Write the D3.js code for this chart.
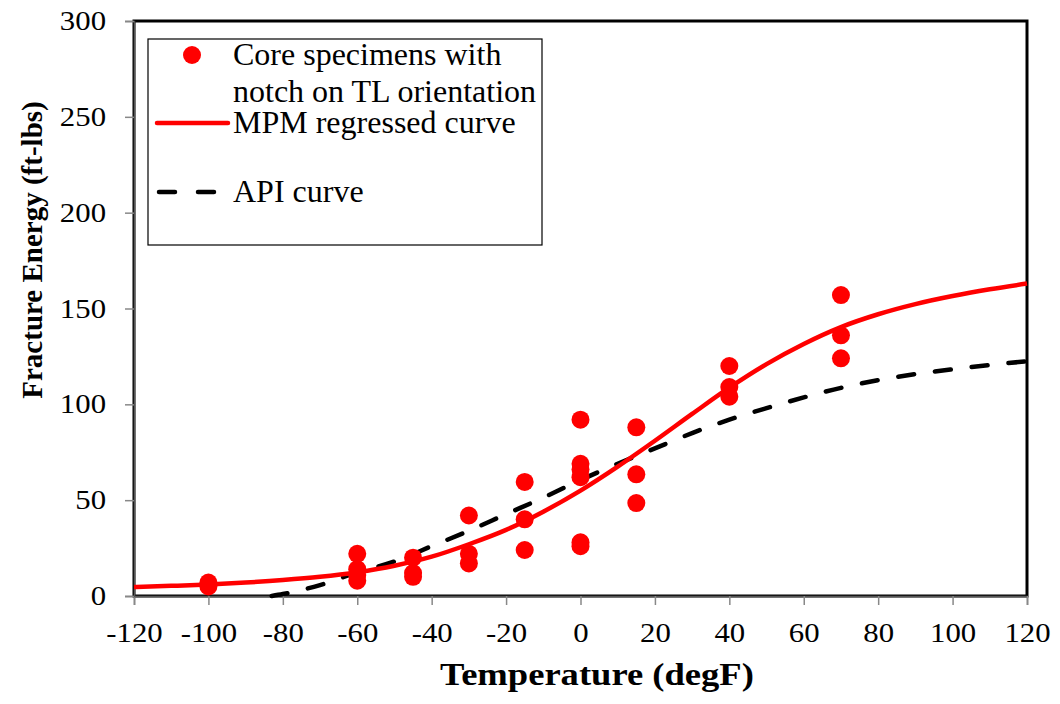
<!DOCTYPE html>
<html>
<head>
<meta charset="utf-8">
<script src="https://cdn.jsdelivr.net/npm/d3@7"></script>
<style>
  body { margin: 0; background: #fff; }
</style>
</head>
<body>
<div id="chart"></div>
<script>
// specimen data (temperature degF, fracture energy ft-lbs)
var specTemp   = [-100, -100, -60, -60, -60, -60, -45, -45, -45, -30, -30, -30, -15, -15, -15, 0, 0, 0, 0, 0, 0, 15, 15, 15, 40, 40, 40, 70, 70, 70];
var specEnergy = [7, 5, 22, 14, 11, 8, 20, 12, 10, 42, 22, 17, 59.5, 40, 24, 92, 69, 66, 62, 28, 26, 88, 63.5, 48.5, 120, 109, 104, 157, 136, 124];

// MPM regressed curve
var mpmTemp   = [-120, -110, -100, -90, -80, -70, -60, -50, -40, -30, -20, -10, 0, 10, 20, 30, 40, 50, 60, 70, 80, 90, 100, 110, 120];
var mpmEnergy = [4.7, 5.3, 6.0, 7.0, 8.3, 10.0, 12.4, 15.8, 20.5, 27, 34.5, 44, 55, 67.5, 81, 95, 108.7, 121, 131.5, 140.3, 147, 152.3, 156.5, 160, 163];

// API curve
var apiTemp   = [-83, -80, -70, -60, -50, -40, -30, -20, -10, 0, 10, 20, 30, 40, 50, 60, 70, 80, 90, 100, 110, 120];
var apiEnergy = [0, 1, 5.7, 12.3, 18, 26, 34, 42.7, 51.3, 60.5, 69, 77, 85, 92, 98, 103.6, 108.6, 112.6, 115.8, 118.3, 120.5, 122.5];

var xTicks = [-120, -100, -80, -60, -40, -20, 0, 20, 40, 60, 80, 100, 120];
var yTicks = [0, 50, 100, 150, 200, 250, 300];

var serif = "'Liberation Serif', 'Times New Roman', serif";
var stretch = 1.14; // tick labels in the original are a bit wide

var svgWidth = 1060;
var svgHeight = 704;

var margin = { top: 21, right: 33, bottom: 108, left: 134 };
var width = svgWidth - margin.left - margin.right;
var height = svgHeight - margin.top - margin.bottom;

var svg = d3.select("#chart")
  .append("svg")
  .attr("width", svgWidth)
  .attr("height", svgHeight);

var chartGroup = svg.append("g")
  .attr("transform", `translate(${margin.left}, ${margin.top})`);

var x = d3.scaleLinear().domain([-120, 120]).range([0, width]);
var y = d3.scaleLinear().domain([0, 300]).range([height, 0]);

// plot frame
chartGroup.append("rect")
  .attr("width", width)
  .attr("height", height)
  .attr("fill", "none")
  .attr("stroke", "#000")
  .attr("stroke-width", 3);

// axes
var bottomAxis = d3.axisBottom(x).tickValues(xTicks).tickSize(9).tickPadding(18).tickFormat(d => String(d));
var leftAxis = d3.axisLeft(y).tickValues(yTicks).tickSize(9).tickPadding(19).tickFormat(d => String(d));

var xAxisG = chartGroup.append("g")
  .attr("transform", `translate(0, ${height})`)
  .call(bottomAxis);

var yAxisG = chartGroup.append("g")
  .call(leftAxis);

[xAxisG, yAxisG].forEach(function(g) {
  g.select(".domain").attr("stroke", "#555").attr("stroke-width", 1.5);
  g.selectAll(".tick line").attr("stroke", "#888").attr("stroke-width", 1.5);
  g.selectAll(".tick text")
    .style("font-family", serif)
    .style("font-size", "27px")
    .attr("fill", "#000")
    .attr("transform", `scale(${stretch}, 1)`);
});
xAxisG.selectAll(".tick text").attr("dy", "0.71em");
yAxisG.selectAll(".tick text").attr("x", -28 / stretch);

// API curve (dashed)
var line = d3.line()
  .x(d => x(d[0]))
  .y(d => y(d[1]))
  .curve(d3.curveMonotoneX);

chartGroup.append("path")
  .datum(d3.zip(apiTemp, apiEnergy))
  .attr("d", line)
  .attr("fill", "none")
  .attr("stroke", "#000")
  .attr("stroke-width", 4.5)
  .attr("stroke-dasharray", "16,21")
  .attr("stroke-linecap", "round");

// MPM curve
chartGroup.append("path")
  .datum(d3.zip(mpmTemp, mpmEnergy))
  .attr("d", line)
  .attr("fill", "none")
  .attr("stroke", "#ff0000")
  .attr("stroke-width", 4.5);

// specimens
chartGroup.append("g")
  .selectAll("circle")
  .data(d3.zip(specTemp, specEnergy))
  .enter()
  .append("circle")
  .attr("cx", d => x(d[0]))
  .attr("cy", d => y(d[1]))
  .attr("r", 9)
  .attr("fill", "#ff0000");

// axis titles
svg.append("text")
  .attr("transform", "translate(597, 685) scale(1.18, 1)")
  .attr("text-anchor", "middle")
  .style("font-family", serif)
  .style("font-size", "31px")
  .style("font-weight", "bold")
  .text("Temperature (degF)");

svg.append("text")
  .attr("transform", "translate(42, 250) rotate(-90)")
  .attr("text-anchor", "middle")
  .style("font-family", serif)
  .style("font-size", "29px")
  .style("font-weight", "bold")
  .text("Fracture Energy (ft-lbs)");

// legend
var legend = svg.append("g");

legend.append("rect")
  .attr("x", 148)
  .attr("y", 39)
  .attr("width", 394)
  .attr("height", 206)
  .attr("fill", "#fff")
  .attr("stroke", "#000")
  .attr("stroke-width", 1.2);

legend.append("circle")
  .attr("cx", 192)
  .attr("cy", 55)
  .attr("r", 9)
  .attr("fill", "#ff0000");

function legendText(yPos, label) {
  legend.append("text")
    .attr("x", 233)
    .attr("y", yPos)
    .style("font-family", serif)
    .style("font-size", "32px")
    .text(label);
}

legendText(65, "Core specimens with");
legendText(102, "notch on TL orientation");

legend.append("line")
  .attr("x1", 157).attr("x2", 228)
  .attr("y1", 123).attr("y2", 123)
  .attr("stroke", "#ff0000")
  .attr("stroke-width", 4.5)
  .attr("stroke-linecap", "round");
legendText(133, "MPM regressed curve");

legend.append("line")
  .attr("x1", 159).attr("x2", 218)
  .attr("y1", 192).attr("y2", 192)
  .attr("stroke", "#000")
  .attr("stroke-width", 4.5)
  .attr("stroke-dasharray", "16,23")
  .attr("stroke-linecap", "round");
legendText(202, "API curve");
</script>
</body>
</html>
